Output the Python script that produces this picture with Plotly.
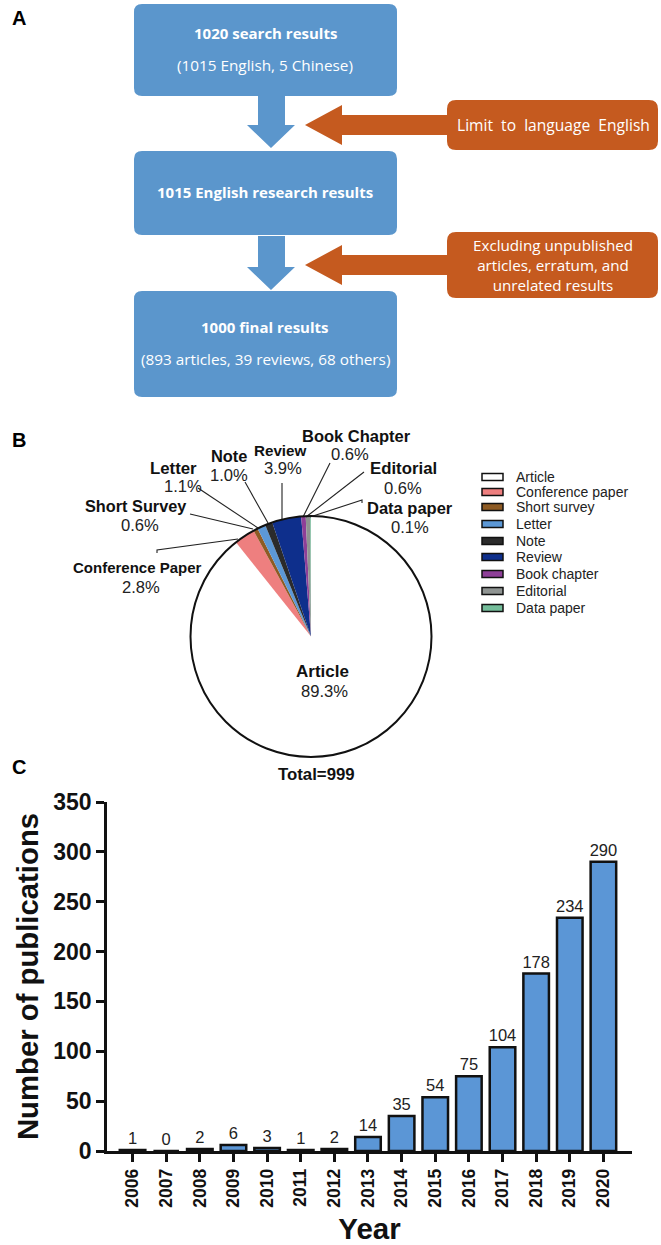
import plotly.graph_objects as go

W, H = 661, 1245

# ---------- data ----------
years = ["2006","2007","2008","2009","2010","2011","2012","2013","2014","2015","2016","2017","2018","2019","2020"]
publications = [1,0,2,6,3,1,2,14,35,54,75,104,178,234,290]

doc_types = ["Article","Conference paper","Short survey","Letter","Note","Review","Book chapter","Editorial","Data paper"]
doc_counts = [892,28,6,11,10,39,6,6,1]
doc_colors = ["#FFFFFF","#EE7F7F","#8E5B24","#5C98D6","#2B2B2B","#0E2F8C","#8E3F98","#8F9492","#74BD9A"]

pie_names = ["Article","Conference Paper","Short Survey","Letter","Note","Review","Book Chapter","Editorial","Data paper"]
pie_pcts = ["89.3%","2.8%","0.6%","1.1%","1.0%","3.9%","0.6%","0.6%","0.1%"]

ARIAL = "Liberation Sans"
FLOW = "Open Sans"
BLUE = "#5B96CC"
ORANGE = "#C55A1F"

def X(x): return x / W
def Y(y): return 1 - y / H

shapes, ann = [], []

def text(x, y, s, size, color="#111", bold=False, family=ARIAL, anchor="center", angle=0):
    ann.append(dict(xref="paper", yref="paper", x=X(x), y=Y(y), text=f"<b>{s}</b>" if bold else s,
                    showarrow=False, xanchor=anchor, yanchor="middle", textangle=angle,
                    font=dict(size=size, color=color, family=family)))

def poly(points, fill):
    d = "M" + " L".join(f"{X(a):.5f},{Y(b):.5f}" for a, b in points) + " Z"
    shapes.append(dict(type="path", xref="paper", yref="paper", path=d, fillcolor=fill, line=dict(width=0), layer="below"))

def rbox(x0, y0, x1, y1, r, fill):
    rx, ry = r / W, r / H
    a, b, c, d = X(x0), X(x1), Y(y0), Y(y1)
    p = (f"M{a+rx:.5f},{c:.5f} L{b-rx:.5f},{c:.5f} Q{b:.5f},{c:.5f} {b:.5f},{c-ry:.5f} "
         f"L{b:.5f},{d+ry:.5f} Q{b:.5f},{d:.5f} {b-rx:.5f},{d:.5f} L{a+rx:.5f},{d:.5f} "
         f"Q{a:.5f},{d:.5f} {a:.5f},{d+ry:.5f} L{a:.5f},{c-ry:.5f} Q{a:.5f},{c:.5f} {a+rx:.5f},{c:.5f} Z")
    shapes.append(dict(type="path", xref="paper", yref="paper", path=p, fillcolor=fill, line=dict(width=0), layer="below"))

def seg(points, width=1.1, color="#222"):
    d = "M" + " L".join(f"{X(a):.5f},{Y(b):.5f}" for a, b in points)
    shapes.append(dict(type="path", xref="paper", yref="paper", path=d, line=dict(width=width, color=color)))

# ---------- panel A ----------
text(19, 18, "A", 20, "#000", True)
rbox(134, 4, 397, 96, 8, BLUE)
rbox(134, 151, 397, 235, 8, BLUE)
rbox(134, 291, 397, 397, 8, BLUE)
for top, neck, tip in [(96, 125, 148), (236, 267, 290)]:
    poly([(258, top), (285, top), (285, neck), (295, neck), (271, tip), (247, neck), (258, neck)], BLUE)
text(265, 33, "1020 search results", 15, "#fff", True, FLOW)
text(265, 65, "(1015 English, 5 Chinese)", 15.3, "#fff", False, FLOW)
text(265, 192, "1015 English research results", 15, "#fff", True, FLOW)
text(265, 327, "1000 final results", 15, "#fff", True, FLOW)
text(265, 359, "(893 articles, 39 reviews, 68 others)", 15.3, "#fff", False, FLOW)

rbox(447, 100, 658, 150, 9, ORANGE)
rbox(447, 232, 658, 298, 9, ORANGE)
for cy in (125, 265):
    poly([(305, cy), (342, cy - 20), (342, cy - 10), (450, cy - 10), (450, cy + 10), (342, cy + 10), (342, cy + 20)], ORANGE)
text(553, 125, "Limit  to  language  English", 15.6, "#fff", False, FLOW)
text(553, 265, "Excluding unpublished<br>articles, erratum, and<br>unrelated results", 15.2, "#fff", False, FLOW)

# ---------- panel B ----------
text(19, 440, "B", 20, "#000", True)
text(19, 767, "C", 20, "#000", True)

label_pos = [(322, 671, 324, 691), (137, 567, 141, 587), (135, 506, 140, 525), (173, 468, 183, 487),
             (229, 456, 229, 475), (280, 451, 283, 469), (357, 436, 350, 454), (403, 469, 403, 488), (410, 508, 410, 527)]
label_size = [17, 15, 16.3, 16.8, 16.4, 15.2, 16.5, 16.8, 16.5]
for name, pct, (a, b, c, d), sz in zip(pie_names, pie_pcts, label_pos, label_size):
    text(a, b, name, sz, "#111", True)
    text(c, d, pct, 16.6, "#222")

for line in [[(157, 553), (157, 550), (238, 539)], [(190, 514), (253, 529)], [(198, 488), (258, 528)],
             [(245, 482), (268, 523)], [(282, 483), (282, 519)], [(330, 463), (303, 517)],
             [(364, 472), (306, 517)], [(362, 503), (362, 500), (310, 517)]]:
    seg(line)

shapes.append(dict(type="circle", xref="paper", yref="paper", x0=X(190.5), x1=X(431.5), y0=Y(757), y1=Y(516),
                   line=dict(color="#111", width=2)))
text(316, 774, "Total=999", 16.8, "#111", True)

legend_y = [477, 492, 507, 524, 541, 557, 574, 591, 608]
for name, col, y in zip(doc_types, doc_colors, legend_y):
    shapes.append(dict(type="rect", xref="paper", yref="paper", x0=X(482), x1=X(503), y0=Y(y - 3.5), y1=Y(y + 3.5),
                       fillcolor=col, line=dict(color="#111", width=1.5)))
    text(513.5, y, name, 14, "#222", anchor="left")

fig = go.Figure()
fig.add_trace(go.Pie(labels=doc_types, values=doc_counts, sort=False, direction="clockwise", rotation=0,
                     marker=dict(colors=doc_colors, line=dict(width=0)), textinfo="none", showlegend=False,
                     domain=dict(x=[X(190), X(432)], y=[Y(757), Y(516)])))

# ---------- panel C ----------
fig.add_trace(go.Bar(x=years, y=publications, text=[str(v) for v in publications], textposition="outside",
                     constraintext="none",
                     textfont=dict(size=16.5, color="#222", family=ARIAL), cliponaxis=False,
                     marker=dict(color="#5B96D6", line=dict(color="#111", width=2.5)), width=0.76,
                     showlegend=False, xaxis="x", yaxis="y"))

fig.update_layout(
    width=W, height=H, margin=dict(l=0, r=0, t=0, b=0, autoexpand=False), paper_bgcolor="white", plot_bgcolor="white",
    shapes=shapes, annotations=ann, showlegend=False,
    xaxis=dict(domain=[X(107), X(632)], type="category", range=[-0.76, 14.85], showgrid=False, zeroline=False,
               showline=True, linecolor="#111", linewidth=2.5, ticks="outside", ticklen=8, tickwidth=2.5,
               tickcolor="#111", tickangle=-90, tickfont=dict(size=17.5, family=ARIAL, weight=700, color="#111"),
               title=dict(text="<b>Year</b>", font=dict(size=29.5, family=ARIAL, color="#111"), standoff=14)),
    yaxis=dict(domain=[Y(1151), Y(802)], range=[0, 350], dtick=50, showgrid=False, zeroline=False,
               showline=True, linecolor="#111", linewidth=2.5, ticks="outside", ticklen=8, tickwidth=2.5,
               tickcolor="#111", tickfont=dict(size=23, family=ARIAL, weight=700, color="#111"),
               title=dict(text="<b>Number of publications</b>", font=dict(size=29.3, family=ARIAL, color="#111"), standoff=7)),
)
fig.write_html("out.html", config=dict(displayModeBar=False), post_script="document.body.style.margin='0';")
